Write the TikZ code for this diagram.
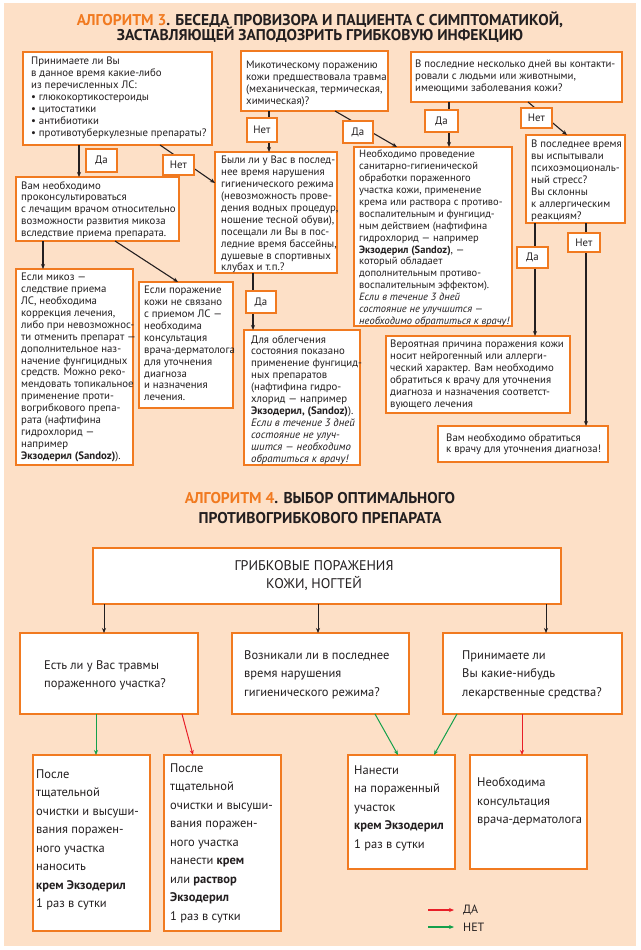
\documentclass[tikz,border=0pt]{standalone}
\usepackage{fontspec}
\setmainfont{PT Sans}
\usetikzlibrary{calc,arrows.meta}
\definecolor{bgc}{RGB}{253,224,199}
\definecolor{orng}{RGB}{241,122,32}
\definecolor{ink}{RGB}{35,31,32}
\definecolor{rd}{RGB}{232,30,40}
\definecolor{gn}{RGB}{20,160,75}
\begin{document}
\begin{tikzpicture}[x=1pt,y=-1pt,
  box/.style={draw=orng, line width=1.8pt, fill=white, anchor=north west, inner sep=0pt, outer sep=0pt},
  txt/.style={anchor=north west, inner sep=0pt, align=left, text=ink, font=\fontsize{10.8}{11.9}\selectfont},
  txtb/.style={anchor=north west, inner sep=0pt, align=left, text=ink, font=\fontsize{12.5}{18.5}\selectfont},
  lbl/.style={draw=orng, line width=1.6pt, fill=white, minimum width=31pt, minimum height=21pt, inner sep=0pt, text=ink, font=\fontsize{10.8}{11.9}\selectfont},
  arr/.style={-{Stealth[length=5pt,width=4pt]}, line width=1.1pt, draw=ink},
  garr/.style={-{Stealth[length=5pt,width=4pt]}, line width=1pt},
  ttl/.style={anchor=base, inner sep=0pt, text=ink, font=\bfseries\fontsize{15.6}{17}\selectfont}
]
\useasboundingbox (0,0) rectangle (640,950);
\fill[bgc] (4,3) rectangle (636,946);

% ---------- Algorithm 3 ----------
\node[ttl] (t1) at (320,25.4) {\textcolor{orng}{АЛГОРИТМ 3}. БЕСЕДА ПРОВИЗОРА И ПАЦИЕНТА С СИМПТОМАТИКОЙ,};
\node[ttl] (t2) at (320,41) {ЗАСТАВЛЯЮЩЕЙ ЗАПОДОЗРИТЬ ГРИБКОВУЮ ИНФЕКЦИЮ};

\node[box, minimum width=189pt, minimum height=93pt] (q1) at (23,52) {};
\node[txt] (q1t) at ($(q1.north west)+(8,5)$) {Принимаете ли Вы\\в данное время какие-либо\\из перечисленных ЛС:\\\textbullet\ глюкокортикостероиды\\\textbullet\ цитостатики\\\textbullet\ антибиотики\\\textbullet\ противотуберкулезные препараты?};

\node[box, minimum width=147pt, minimum height=60pt] (q2) at (241,51) {};
\node[txt] (q2t) at ($(q2.north west)+(5,10)$) {Микотическому поражению\\кожи предшествовала травма\\(механическая, термическая,\\химическая)?};

\node[box, minimum width=211pt, minimum height=50pt] (q3) at (411,52) {};
\node[txt] (q3t) at ($(q3.north west)+(4,8)$) {В последние несколько дней вы контакти-\\ровали с людьми или животными,\\имеющими заболевания кожи?};

\node[box, minimum width=163pt, minimum height=64pt] (b1) at (16,177) {};
\node[txt] (b1t) at ($(b1.north west)+(5,4)$) {Вам необходимо\\проконсультироваться\\с лечащим врачом относительно\\возможности развития микоза\\вследствие приема препарата.};

\node[box, minimum width=117pt, minimum height=196pt] (b2) at (16,269) {};
\node[txt] (b2t) at ($(b2.north west)+(5,4)$) {Если микоз —\\следствие приема\\ЛС, необходима\\коррекция лечения,\\либо при невозможнос-\\ти отменить препарат —\\дополнительное наз-\\начение фунгицидных\\средств. Можно реко-\\мендовать топикальное\\применение проти-\\вогрибкового препа-\\рата (нафтифина\\гидрохлорид —\\например\\\textbf{Экзодерил (Sandoz)}).};

\node[box, minimum width=94pt, minimum height=126pt] (b3) at (139,282) {};
\node[txt] (b3t) at ($(b3.north west)+(5,4)$) {Если поражение\\кожи не связано\\с приемом ЛС —\\необходима\\консультация\\врача-дерматолога\\для уточнения\\диагноза\\и назначения\\лечения.};

\node[box, minimum width=122pt, minimum height=121pt] (b4) at (215,152) {};
\node[txt] (b4t) at ($(b4.north west)+(6,4)$) {Были ли у Вас в послед-\\нее время нарушения\\гигиенического режима\\(невозможность прове-\\дения водных процедур,\\ношение тесной обуви),\\посещали ли Вы в пос-\\ледние время бассейны,\\душевые в спортивных\\клубах и т.п.?};

\node[box, minimum width=116pt, minimum height=135pt] (b5) at (244,330) {};
\node[txt] (b5t) at ($(b5.north west)+(7,5)$) {Для облегчения\\состояния показано\\применение фунгицид-\\ных препаратов\\(нафтифина гидро-\\хлорид — например\\\textbf{Экзодерил, (Sandoz)}).\\\textit{Если в течение 3 дней}\\\textit{состояние не улуч-}\\\textit{шится — необходимо}\\\textit{обратиться к врачу!}};

\node[box, minimum width=158pt, minimum height=179pt] (b6) at (354,147) {};
\node[txt, font=\fontsize{10.5}{11.9}\selectfont] (b6t) at ($(b6.north west)+(5,3)$) {Необходимо проведение\\санитарно-гигиенической\\обработки пораженного\\участка кожи, применение\\крема или раствора с противо-\\воспалительным и фунгицид-\\ным действием (нафтифина\\гидрохлорид — например\\\textbf{Экзодерил (Sandoz)}, —\\который обладает\\дополнительным противо-\\воспалительным эффектом).\\\textit{Если в течение 3 дней}\\\textit{состояние не улучшится —}\\\textit{необходимо обратиться к врачу!}};

\node[box, minimum width=99pt, minimum height=88pt] (b7) at (526,135) {};
\node[txt] (b7t) at ($(b7.north west)+(5,5)$) {В последнее время\\вы испытывали\\психоэмоциональ-\\ный стресс?\\Вы склонны\\к аллергическим\\реакциям?};

\node[box, minimum width=184pt, minimum height=77pt] (b8) at (386,336) {};
\node[txt] (b8t) at ($(b8.north west)+(4,4)$) {Вероятная причина поражения кожи\\носит нейрогенный или аллерги-\\ческий характер. Вам необходимо\\обратиться к врачу для уточнения\\диагноза и назначения соответст-\\вующего лечения};

\node[box, minimum width=170pt, minimum height=36pt] (b9) at (438,426) {};
\node[txt] (b9t) at ($(b9.north west)+(8,7)$) {Вам необходимо обратиться\\к врачу для уточнения диагноза!};

% connectors algorithm 3
\draw[arr] ($(q1.south west)+(56,0)$) -- ($(b1.north west)+(63,0)$);
\draw[arr] ($(q1.south west)+(137,0)$) -- ($(b4.north west)+(0,31)$);
\draw[arr] ($(q2.south west)+(28,0)$) -- ($(b4.north west)+(54,0)$);
\draw[arr] ($(q2.south west)+(94,0)$) -- ($(b6.north west)+(43,0)$);
\draw[arr] ($(q3.south west)+(38,0)$) -- ($(b6.north west)+(95,0)$);
\draw[arr] ($(q3.south west)+(117,0)$) -- ($(b7.north west)+(41,0)$);
\draw[arr] ($(b1.south west)+(27,0)$) -- ($(b2.north west)+(27,0)$);
\draw[arr] ($(b1.south west)+(99,0)$) -- ($(b3.north west)+(39,0)$);
\draw[arr] ($(b4.south west)+(38,0)$) -- ($(b5.north west)+(9,0)$);
\draw[arr] ($(b7.south west)+(9,0)$) -- ($(b8.north west)+(149,0)$);
\draw[arr] ($(b7.south west)+(60,0)$) -- ($(b9.north west)+(148,0)$);

\node[lbl, minimum height=23pt] (l1) at (101.5,160.5) {Да};
\node[lbl, minimum height=20pt] (l2) at (178.5,165) {Нет};
\node[lbl, minimum height=24pt, minimum width=30pt] (l3) at (262,130) {Нет};
\node[lbl, minimum height=22pt, minimum width=30pt] (l4) at (358,132) {Да};
\node[lbl, minimum height=22pt, minimum width=33pt] (l5) at (441.5,121) {Да};
\node[lbl, minimum height=20pt] (l6) at (536.5,118) {Нет};
\node[lbl, minimum height=22pt, minimum width=30pt] (l7) at (261,302) {Да};
\node[lbl] (l8) at (532.5,257.5) {Да};
\node[lbl, minimum height=19pt, minimum width=32pt] (l9) at (584,242.5) {Нет};

% ---------- Algorithm 4 ----------
\node[ttl] (t3) at (320,503) {\textcolor{orng}{АЛГОРИТМ 4}. ВЫБОР ОПТИМАЛЬНОГО};
\node[ttl] (t4) at (320,523) {ПРОТИВОГРИБКОВОГО ПРЕПАРАТА};

\node[box, minimum width=468pt, minimum height=56pt] (g0) at (93,548) {};
\node[inner sep=0pt, align=center, text=ink, font=\fontsize{14}{18}\selectfont] (g0t) at (314,576) {ГРИБКОВЫЕ ПОРАЖЕНИЯ\\КОЖИ, НОГТЕЙ};

\node[box, minimum width=178pt, minimum height=81pt] (ga) at (20,633) {};
\node[txtb] (gat) at ($(ga.north west)+(24,27.4)$) {Есть ли у Вас травмы\\пораженного участка?};
\node[box, minimum width=177pt, minimum height=81pt] (gb) at (232,633) {};
\node[txtb] (gbt) at ($(gb.north west)+(12,17.4)$) {Возникали ли в последнее\\время нарушения\\гигиенического режима?};
\node[box, minimum width=179pt, minimum height=81pt] (gc) at (443,633) {};
\node[txtb] (gct) at ($(gc.north west)+(19,17.4)$) {Принимаете ли\\Вы какие-нибудь\\лекарственные средства?};

\node[box, minimum width=117pt, minimum height=176pt] (ha) at (33,755) {};
\node[txtb] (hat) at ($(ha.north west)+(3,14.4)$) {После\\тщательной\\очистки и высуши-\\вания поражен-\\ного участка\\наносить\\\textbf{крем Экзодерил}\\1 раз в сутки};
\node[box, minimum width=117pt, minimum height=176pt] (hb) at (164,755) {};
\node[txtb] (hbt) at ($(hb.north west)+(6,8.4)$) {После\\тщательной\\очистки и высуши-\\вания поражен-\\ного участка\\нанести \textbf{крем}\\или \textbf{раствор}\\\textbf{Экзодерил}\\1 раз в сутки};
\node[box, minimum width=107pt, minimum height=114pt] (hc) at (348,755) {};
\node[txtb] (hct) at ($(hc.north west)+(6,10.4)$) {Нанести\\на пораженный\\участок\\\textbf{крем Экзодерил}\\1 раз в сутки};
\node[box, minimum width=117pt, minimum height=114pt] (hd) at (470,755) {};
\node[txtb] (hdt) at ($(hd.north west)+(7,22.4)$) {Необходима\\консультация\\врача-дерматолога};

\draw[garr, draw=ink] ($(g0.south west)+(11,0)$) -- ($(ga.north west)+(84,0)$);
\draw[garr, draw=ink] ($(g0.south west)+(225,0)$) -- ($(gb.north west)+(86,0)$);
\draw[garr, draw=ink] ($(g0.south west)+(453,0)$) -- ($(gc.north west)+(103,0)$);
\draw[garr, draw=gn] ($(ga.south west)+(76,0)$) -- ($(ha.north west)+(63,0)$);
\draw[garr, draw=rd] ($(ga.south west)+(162,0)$) -- ($(hb.north west)+(29,0)$);
\draw[garr, draw=gn] ($(gb.south west)+(143,0)$) -- ($(hc.north west)+(50,0)$);
\draw[garr, draw=gn] ($(gc.south west)+(14,0)$) -- ($(hc.north west)+(86,0)$);
\draw[garr, draw=rd] ($(gc.south west)+(79,0)$) -- ($(hd.north west)+(52,0)$);

% legend
\coordinate (lr0) at (428,910);
\coordinate (lr1) at (454,910);
\coordinate (lg0) at (428,927);
\coordinate (lg1) at (454,927);
\draw[garr, draw=rd, line width=1.3pt] (lr0) -- (lr1);
\draw[garr, draw=gn, line width=1.3pt] (lg0) -- (lg1);
\node[anchor=west, inner sep=0pt, text=ink, font=\fontsize{12}{14}\selectfont] (lda) at (463,910) {ДА};
\node[anchor=west, inner sep=0pt, text=ink, font=\fontsize{12}{14}\selectfont] (lnet) at (463,927) {НЕТ};
\end{tikzpicture}
\end{document}
